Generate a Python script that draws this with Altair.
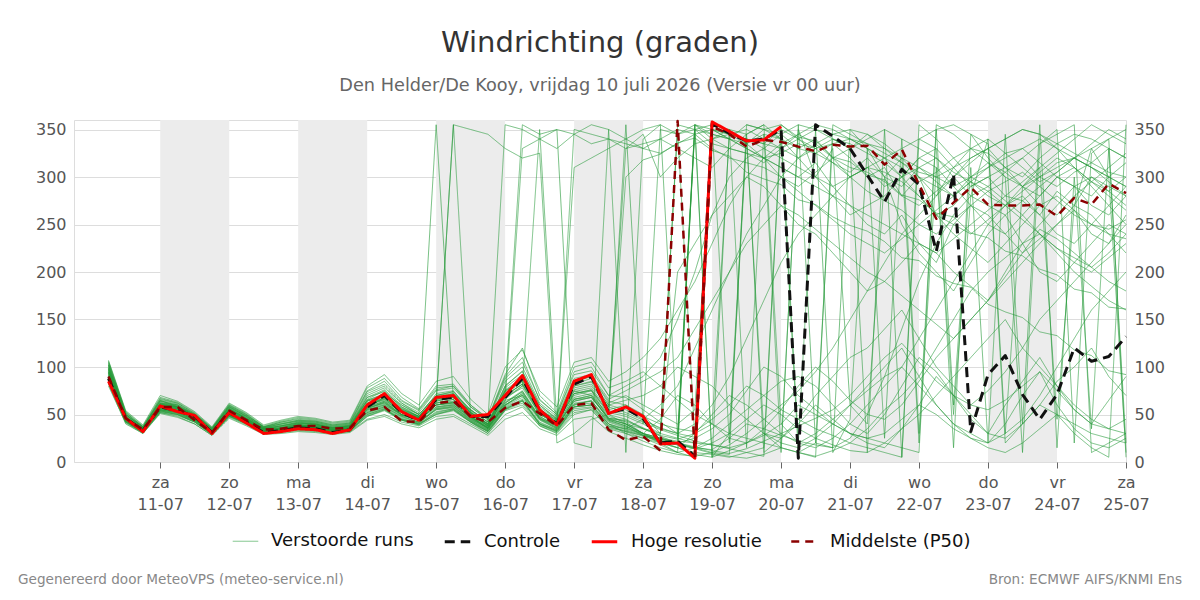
import json
import pandas as pd
import altair as alt

# ---------------- data (6-hourly, first step = vr 10-07 06 uur) ----------------
hoge_resolutie = [85, 46, 32, 59, 53, 49, 30, 52, 41, 30, 32, 35, 34, 30, 34,
                  60, 72, 53, 44, 68, 70, 48, 50, 70, 91, 55, 39, 85, 92, 51,
                  58, 48, 19, 20, 4, 358, 348, 338, 339, 353]
controle = [88, 46, 33, 58, 54, 48, 31, 52, 42, 31, 33, 36, 35, 31, 34,
            58, 70, 52, 44, 66, 68, 48, 48, 68, 88, 54, 40, 82, 90, 52,
            56, 46, 20, 22, 6, 356, 346, 338, 340, 350,
            4, 355, 343, 330, 302, 274, 308, 292, 222, 303,
            32, 92, 112, 71, 45, 71, 120, 106, 111, 132]
middelste = [90, 46, 34, 58, 58, 44, 31, 54, 44, 34, 35, 38, 38, 35, 36,
             54, 58, 43, 42, 62, 64, 48, 42, 57, 64, 51, 38, 60, 62, 34,
             23, 27, 12, 359, 6, 353, 345, 332, 339, 337,
             332, 327, 334, 332, 333, 313, 329, 292, 256, 273,
             289, 271, 270, 270, 271, 259, 278, 271, 293, 283]

m01 = [95, 48, 33, 62, 60, 48, 30, 56, 46, 35, 38, 42, 40, 36, 38,
       62, 70, 55, 48, 72, 75, 52, 40, 80, 95, 60, 45, 82, 88, 55,
       60, 50, 30, 25, 20, 350, 345, 340, 335, 350, 340, 330, 335, 320, 300,
       310, 280, 300, 260, 270, 290, 300, 280, 275, 260, 285, 270, 300, 290, 280]
m02 = [88, 44, 35, 55, 52, 44, 33, 50, 42, 33, 32, 36, 37, 33, 34,
       55, 60, 50, 44, 60, 62, 48, 35, 60, 72, 48, 38, 70, 75, 45,
       40, 30, 22, 15, 8, 5, 12, 20, 30, 25, 40, 60, 45, 30, 20,
       15, 35, 60, 90, 70, 50, 30, 60, 85, 110, 80, 55, 40, 65, 90]
m03 = [100, 50, 36, 65, 58, 50, 35, 58, 48, 36, 40, 44, 42, 38, 40,
       70, 78, 62, 50, 355, 65, 55, 42, 75, 85, 52, 40, 310, 320, 330,
       340, 350, 355, 345, 350, 335, 330, 325, 320, 310, 300, 315, 290, 270, 250,
       240, 260, 230, 210, 250, 270, 260, 240, 220, 235, 250, 265, 240, 230, 260]
m04 = [90, 45, 32, 57, 55, 45, 30, 52, 44, 32, 36, 40, 35, 32, 36,
       58, 68, 52, 45, 65, 68, 50, 38, 70, 82, 50, 42, 75, 70, 50,
       45, 35, 28, 355, 350, 345, 340, 355, 350, 345, 330, 340, 320, 300, 310,
       290, 300, 310, 295, 280, 300, 315, 305, 290, 280, 300, 310, 295, 285, 300]
m05 = [97, 47, 34, 60, 57, 47, 31, 55, 45, 34, 35, 38, 39, 34, 35,
       52, 58, 48, 42, 55, 58, 45, 36, 65, 70, 45, 35, 60, 65, 40,
       30, 25, 18, 10, 15, 25, 40, 55, 70, 85, 90, 80, 60, 40, 30,
       50, 80, 110, 95, 70, 45, 30, 25, 40, 60, 85, 100, 120, 90, 70]
m06 = [85, 42, 31, 54, 50, 42, 29, 49, 40, 31, 33, 34, 33, 31, 33,
       48, 55, 45, 40, 50, 55, 42, 30, 55, 65, 40, 32, 58, 60, 38,
       35, 45, 60, 80, 120, 160, 200, 240, 270, 300, 320, 330, 340, 335, 325,
       315, 300, 320, 330, 310, 290, 300, 310, 320, 300, 290, 305, 315, 330, 320]
m07 = [105, 52, 37, 66, 62, 51, 36, 60, 50, 37, 42, 46, 44, 40, 42,
       75, 85, 65, 55, 78, 80, 60, 45, 90, 110, 65, 50, 95, 100, 70,
       80, 90, 110, 150, 200, 260, 300, 320, 330, 345, 355, 350, 340, 330, 345,
       335, 320, 300, 280, 310, 330, 340, 325, 310, 295, 305, 320, 335, 350, 340]
m08 = [93, 46, 35, 59, 56, 46, 31, 53, 43, 33, 34, 37, 36, 34, 35,
       60, 65, 52, 47, 62, 64, 50, 38, 68, 78, 50, 40, 68, 72, 48,
       42, 30, 25, 20, 15, 10, 8, 355, 350, 340, 10, 20, 15, 350, 330,
       300, 250, 220, 200, 180, 210, 240, 260, 230, 200, 190, 210, 230, 250, 240]
m09 = [89, 44, 33, 56, 53, 45, 32, 51, 43, 33, 34, 37, 36, 33, 34,
       56, 62, 50, 45, 58, 60, 47, 36, 62, 74, 46, 36, 66, 70, 44,
       38, 28, 20, 15, 30, 50, 70, 60, 45, 30, 20, 15, 25, 40, 60,
       80, 100, 130, 160, 190, 220, 250, 270, 280, 260, 240, 230, 250, 270, 290]
m10 = [98, 48, 34, 61, 58, 48, 31, 56, 46, 35, 37, 40, 40, 35, 37,
       58, 72, 60, 50, 70, 72, 55, 42, 355, 350, 340, 330, 345, 355, 350,
       340, 330, 325, 335, 345, 350, 340, 330, 320, 325, 335, 330, 315, 305, 320,
       300, 290, 310, 320, 305, 295, 280, 270, 285, 300, 315, 320, 310, 300, 290]
m11 = [82, 40, 30, 52, 48, 40, 28, 47, 39, 30, 31, 33, 32, 30, 32,
       45, 50, 42, 38, 48, 50, 40, 30, 50, 58, 38, 30, 50, 55, 35,
       30, 22, 15, 10, 5, 355, 350, 345, 10, 25, 45, 70, 90, 110, 120,
       140, 160, 130, 100, 80, 60, 75, 95, 120, 150, 170, 190, 210, 230, 250]
m12 = [102, 50, 36, 64, 60, 50, 34, 58, 48, 36, 40, 43, 41, 37, 39,
       66, 75, 58, 48, 68, 70, 52, 40, 72, 90, 55, 44, 80, 85, 60,
       65, 70, 80, 100, 90, 80, 60, 45, 30, 20, 15, 25, 40, 60, 80,
       100, 120, 90, 60, 40, 30, 20, 40, 70, 95, 60, 35, 20, 15, 25]
m13 = [91, 45, 33, 58, 55, 46, 32, 52, 44, 33, 35, 38, 37, 34, 36,
       58, 64, 50, 44, 62, 66, 48, 36, 64, 330, 340, 350, 345, 335, 340,
       330, 345, 300, 320, 335, 340, 330, 325, 315, 330, 345, 335, 320, 310, 305,
       295, 280, 270, 285, 300, 320, 330, 310, 290, 270, 260, 280, 295, 310, 325]
m14 = [87, 44, 32, 55, 52, 44, 31, 50, 42, 32, 33, 36, 35, 32, 33,
       52, 58, 46, 41, 56, 58, 44, 34, 58, 66, 42, 34, 60, 62, 42,
       36, 28, 22, 18, 14, 20, 30, 45, 60, 50, 35, 25, 18, 12, 10,
       20, 35, 50, 70, 90, 110, 130, 150, 120, 100, 80, 60, 45, 35, 30]
m15 = [96, 47, 35, 60, 58, 47, 33, 55, 45, 35, 36, 39, 38, 35, 37,
       64, 70, 56, 48, 66, 70, 52, 40, 74, 86, 55, 42, 76, 80, 58,
       330, 335, 340, 330, 320, 310, 330, 345, 355, 340, 320, 300, 280, 260, 270,
       280, 300, 320, 310, 290, 270, 250, 240, 260, 280, 300, 290, 270, 260, 280]
m16 = [84, 42, 31, 53, 50, 43, 30, 48, 41, 31, 32, 35, 34, 31, 33,
       50, 56, 45, 40, 52, 56, 43, 32, 56, 64, 40, 33, 58, 60, 40,
       35, 30, 45, 70, 60, 40, 25, 20, 35, 55, 80, 100, 85, 65, 50,
       45, 60, 85, 110, 130, 150, 170, 200, 230, 250, 270, 290, 300, 285, 270]
m17 = [99, 49, 35, 62, 58, 49, 33, 57, 47, 35, 38, 41, 40, 36, 38,
       68, 74, 58, 50, 70, 74, 54, 40, 78, 92, 58, 45, 84, 90, 62,
       70, 60, 50, 40, 55, 350, 340, 335, 345, 340, 330, 325, 335, 340, 330,
       320, 310, 295, 305, 320, 330, 325, 310, 300, 320, 335, 345, 340, 330, 320]
m18 = [94, 46, 34, 59, 56, 46, 32, 54, 44, 34, 35, 38, 37, 34, 36,
       57, 63, 50, 45, 60, 63, 48, 37, 60, 70, 46, 38, 64, 68, 46,
       40, 35, 30, 200, 230, 260, 280, 300, 290, 270, 250, 240, 220, 200, 180,
       190, 210, 230, 220, 200, 185, 170, 190, 210, 230, 250, 270, 260, 240, 220]
m19 = [104, 52, 37, 67, 62, 51, 35, 60, 50, 37, 42, 45, 43, 39, 41,
       74, 82, 64, 54, 76, 80, 58, 45, 88, 105, 66, 50, 92, 96, 70,
       68, 55, 42, 30, 355, 345, 340, 330, 320, 310, 300, 290, 280, 270, 260,
       250, 240, 230, 220, 235, 250, 265, 280, 295, 310, 325, 340, 355, 345, 335]
m20 = [106, 53, 38, 68, 63, 52, 36, 61, 51, 38, 43, 47, 45, 41, 43,
       78, 88, 68, 56, 80, 82, 60, 46, 92, 120, 70, 52, 100, 105, 78,
       85, 95, 80, 65, 50, 40, 30, 25, 20, 15, 10, 5, 355, 345, 335,
       325, 315, 305, 300, 310, 320, 330, 340, 350, 345, 335, 325, 315, 305, 300]
m21 = [86, 43, 32, 54, 51, 43, 30, 49, 41, 32, 33, 35, 34, 31, 34,
       50, 56, 44, 40, 53, 56, 43, 33, 56, 64, 40, 33, 56, 58, 38,
       32, 25, 20, 15, 10, 8, 5, 10, 15, 350, 20, 30, 45, 60, 75,
       90, 100, 80, 60, 40, 25, 15, 10, 20, 35, 50, 40, 30, 25, 20]
m22 = [92, 45, 33, 58, 55, 46, 32, 52, 44, 33, 35, 38, 37, 34, 36,
       60, 66, 52, 46, 62, 66, 48, 37, 66, 80, 50, 40, 350, 345, 340,
       335, 330, 340, 350, 345, 330, 320, 315, 310, 300, 290, 305, 320, 330, 340,
       350, 340, 330, 320, 300, 280, 270, 260, 275, 290, 305, 320, 330, 340, 350]
m23 = [101, 50, 36, 63, 59, 49, 34, 58, 48, 36, 39, 42, 41, 37, 39,
       65, 72, 57, 48, 68, 72, 53, 40, 76, 88, 56, 44, 80, 84, 60,
       55, 45, 35, 30, 40, 60, 90, 130, 170, 210, 240, 260, 280, 300, 310,
       305, 295, 280, 260, 240, 225, 210, 230, 250, 270, 280, 265, 250, 240, 235]
m24 = [88, 44, 33, 55, 53, 44, 31, 50, 42, 32, 34, 36, 35, 33, 34,
       54, 60, 48, 42, 57, 60, 46, 35, 60, 70, 45, 36, 62, 64, 44,
       38, 30, 25, 22, 20, 18, 15, 20, 28, 40, 60, 50, 40, 30, 25,
       30, 45, 60, 50, 35, 25, 20, 30, 45, 70, 100, 130, 160, 180, 200]
m25 = [95, 47, 34, 60, 57, 47, 32, 55, 45, 34, 36, 39, 38, 35, 37,
       61, 67, 54, 46, 64, 68, 50, 38, 70, 82, 52, 41, 72, 76, 52,
       48, 40, 350, 345, 355, 340, 345, 350, 340, 330, 320, 335, 345, 350, 345,
       330, 315, 300, 290, 280, 295, 310, 325, 330, 315, 300, 290, 280, 300, 315]
m26 = [83, 42, 31, 52, 49, 42, 29, 48, 40, 31, 32, 34, 33, 31, 32,
       48, 54, 44, 39, 50, 54, 42, 32, 54, 60, 38, 31, 52, 55, 36,
       32, 28, 24, 20, 25, 35, 50, 75, 100, 90, 70, 55, 40, 30, 25,
       20, 15, 10, 355, 345, 330, 315, 300, 290, 300, 310, 320, 310, 295, 280]
m27 = [103, 51, 37, 65, 61, 50, 35, 59, 49, 37, 41, 44, 43, 39, 41,
       72, 80, 62, 52, 75, 78, 58, 44, 85, 100, 62, 48, 88, 92, 66,
       75, 85, 95, 110, 140, 170, 200, 230, 250, 270, 260, 245, 230, 215, 200,
       190, 175, 160, 145, 130, 150, 170, 195, 220, 245, 235, 220, 205, 190, 180]
m28 = [90, 45, 33, 57, 54, 45, 31, 51, 43, 33, 34, 37, 36, 33, 35,
       57, 62, 49, 44, 60, 62, 47, 36, 62, 74, 47, 38, 66, 68, 46,
       44, 36, 28, 24, 30, 40, 345, 335, 350, 355, 340, 325, 315, 300, 285,
       275, 265, 250, 240, 255, 270, 285, 295, 305, 290, 275, 260, 250, 245, 255]
m29 = [97, 48, 35, 61, 58, 48, 33, 56, 46, 35, 37, 40, 39, 36, 38,
       62, 68, 54, 47, 66, 70, 51, 39, 72, 84, 53, 42, 74, 78, 54,
       50, 42, 34, 28, 22, 18, 14, 10, 6, 355, 342, 338, 321, 316, 302,
       297, 281, 276, 262, 258, 241, 236, 222, 217, 203, 197, 182, 178, 163, 161]
m30 = [86, 43, 32, 54, 51, 43, 30, 49, 41, 32, 33, 36, 35, 32, 33,
       51, 57, 45, 41, 55, 57, 44, 33, 57, 65, 41, 34, 58, 60, 40,
       34, 28, 24, 20, 16, 12, 9, 14, 22, 30, 38, 46, 55, 70, 90,
       110, 125, 105, 85, 70, 60, 55, 65, 80, 95, 75, 55, 40, 35, 45]
m31 = [93, 46, 34, 59, 56, 47, 32, 53, 45, 34, 35, 38, 37, 34, 36,
       60, 66, 52, 46, 64, 355, 50, 38, 68, 80, 350, 42, 72, 75, 50,
       355, 40, 30, 350, 25, 355, 20, 340, 30, 15, 350, 300, 330, 60, 40,
       300, 320, 20, 310, 50, 280, 340, 30, 290, 310, 45, 270, 330, 300, 10]
m32 = [89, 44, 33, 56, 54, 45, 31, 51, 43, 33, 34, 37, 36, 33, 35,
       55, 61, 49, 44, 58, 61, 46, 35, 60, 72, 46, 37, 64, 68, 45,
       40, 30, 20, 10, 355, 5, 350, 15, 345, 10, 355, 20, 340, 330, 10,
       350, 5, 340, 330, 15, 345, 320, 300, 10, 335, 350, 20, 325, 340, 5]
m33 = [98, 48, 35, 61, 58, 48, 33, 56, 46, 35, 38, 41, 39, 36, 38,
       64, 70, 55, 47, 66, 70, 52, 39, 74, 355, 345, 350, 20, 15, 350,
       10, 340, 355, 25, 350, 5, 30, 345, 355, 40, 20, 350, 10, 45, 330,
       25, 340, 30, 350, 60, 310, 20, 345, 40, 355, 15, 300, 35, 330, 20]
m34 = [94, 47, 34, 59, 56, 46, 32, 54, 44, 34, 35, 38, 37, 34, 36,
       58, 64, 52, 46, 62, 355, 350, 345, 330, 320, 325, 20, 30, 45, 50,
       40, 30, 25, 20, 355, 350, 345, 340, 335, 330, 340, 350, 345, 340, 335,
       330, 320, 310, 300, 290, 300, 310, 320, 330, 340, 330, 320, 310, 300, 290]
m35 = [80, 41, 30, 51, 47, 40, 28, 46, 38, 29, 30, 32, 31, 29, 31,
       44, 48, 40, 36, 45, 48, 38, 28, 45, 52, 35, 28, 45, 48, 32,
       25, 18, 12, 8, 6, 10, 18, 30, 45, 60, 75, 95, 120, 150, 180,
       210, 240, 260, 280, 300, 315, 330, 340, 350, 345, 330, 310, 290, 270, 250]
m36 = [107, 54, 39, 70, 64, 53, 37, 62, 52, 39, 44, 48, 46, 42, 44,
       80, 92, 72, 60, 85, 90, 66, 50, 100, 118, 75, 58, 105, 110, 85,
       95, 110, 130, 160, 190, 230, 270, 300, 320, 335, 345, 355, 350, 340, 330,
       320, 300, 280, 260, 250, 240, 255, 270, 290, 305, 320, 310, 295, 280, 265]
m37 = [91, 45, 34, 57, 54, 46, 31, 52, 43, 33, 34, 37, 36, 33, 35,
       56, 63, 50, 44, 60, 63, 47, 36, 63, 75, 48, 38, 66, 70, 46,
       43, 35, 27, 20, 14, 9, 6, 4, 8, 15, 10, 6, 12, 20, 35,
       55, 70, 90, 120, 150, 180, 200, 215, 230, 240, 220, 200, 185, 170, 160]
m38 = [99, 49, 36, 62, 59, 49, 34, 57, 47, 36, 38, 41, 40, 36, 38,
       65, 71, 56, 48, 67, 71, 52, 40, 75, 87, 55, 43, 78, 82, 58,
       52, 44, 36, 30, 26, 340, 350, 335, 320, 300, 285, 270, 255, 240, 230,
       220, 235, 250, 265, 280, 295, 285, 270, 255, 240, 225, 210, 200, 215, 230]
m39 = [87, 43, 32, 55, 52, 44, 30, 50, 42, 32, 33, 36, 35, 32, 34,
       53, 59, 47, 42, 56, 59, 45, 34, 59, 68, 44, 35, 61, 64, 43,
       37, 29, 23, 19, 350, 355, 345, 340, 330, 320, 310, 300, 290, 300, 310,
       320, 330, 340, 350, 355, 345, 335, 20, 40, 60, 50, 30, 15, 5, 355]
m40 = [95, 47, 34, 60, 57, 47, 32, 55, 45, 34, 36, 39, 38, 35, 37,
       61, 67, 54, 46, 64, 68, 50, 38, 70, 82, 52, 41, 72, 76, 52,
       300, 318, 324, 336, 341, 328, 322, 305, 298, 292, 276, 271, 258, 249, 243,
       232, 215, 212, 196, 188, 184, 166, 158, 152, 137, 133, 118, 112, 96, 92]
m41 = [102, 50, 37, 64, 60, 50, 35, 59, 49, 37, 40, 43, 42, 38, 40,
       68, 76, 60, 50, 70, 74, 55, 42, 80, 96, 60, 46, 86, 90, 64,
       60, 48, 40, 35, 32, 45, 60, 80, 70, 55, 45, 35, 28, 20, 15,
       10, 5, 355, 340, 320, 300, 290, 305, 320, 335, 345, 355, 10, 20, 30]
m42 = [85, 43, 31, 53, 50, 42, 29, 48, 40, 31, 32, 35, 34, 31, 33,
       49, 55, 44, 39, 51, 55, 42, 32, 55, 62, 39, 32, 54, 57, 37,
       33, 27, 22, 18, 15, 13, 25, 40, 35, 28, 22, 18, 15, 25, 50,
       90, 140, 190, 230, 260, 280, 290, 275, 260, 240, 225, 215, 205, 220, 240]

members = [m01, m02, m03, m04, m05, m06, m07, m08, m09, m10, m11, m12, m13, m14,
           m15, m16, m17, m18, m19, m20, m21, m22, m23, m24, m25, m26, m27, m28,
           m29, m30, m31, m32, m33, m34, m35, m36, m37, m38, m39, m40, m41, m42]

series_names = ["Verstoorde runs", "Controle", "Hoge resolutie", "Middelste (P50)"]
series_colors = ["#259a38", "#111111", "#ff0000", "#8b0000"]
series_dash = [[1, 0], [10, 6], [1, 0], [8, 6]]
series_width = [1, 3, 3, 2.5]
series_opacity = [0.62, 1, 1, 1]

day_names = ["za", "zo", "ma", "di", "wo", "do", "vr", "za", "zo", "ma", "di", "wo", "do", "vr", "za"]
day_dates = ["11-07", "12-07", "13-07", "14-07", "15-07", "16-07", "17-07", "18-07",
             "19-07", "20-07", "21-07", "22-07", "23-07", "24-07", "25-07"]
day_ticks = list(range(1, 16))
shade_start = [1, 3, 5, 7, 9, 11, 13]
shade_end = [2, 4, 6, 8, 10, 12, 14]

y_ticks = [0, 50, 100, 150, 200, 250, 300, 350]
STEP = 0.25  # days
T0 = 0.25    # 10-07 06 uur


# ---------------- tables ----------------
def table(name, values, member="x"):
    return pd.DataFrame({"t": [T0 + STEP * i for i in range(len(values))],
                         "v": values, "series": name, "member": member})


df_members = pd.concat([table(series_names[0], m, f"m{k:02d}") for k, m in enumerate(members)])
df_ctrl = table(series_names[1], controle)
df_hres = table(series_names[2], hoge_resolutie)
df_p50 = table(series_names[3], middelste)
df_shade = pd.DataFrame({"s": shade_start, "e": shade_end})

W, H = 1052, 342
FONT = "DejaVu Sans"

label_expr = (f"[{json.dumps(day_names)}[round(datum.value) - 1], "
              f"{json.dumps(day_dates)}[round(datum.value) - 1]]")

x_scale = alt.Scale(domain=[-0.25, 15], nice=False, zero=False)
x_axis = alt.Axis(values=day_ticks, labelExpr=label_expr, title=None, grid=False,
                  domain=False, ticks=True, tickSize=6, tickColor="#666",
                  labelFontSize=16, labelColor="#555", labelPadding=6,
                  labelLineHeight=22, labelFont=FONT, labelOverlap=False,
                  labelBound=False, labelFlush=False)
y_scale = alt.Scale(domain=[0, 360], nice=False)

color = alt.Color("series:N", scale=alt.Scale(domain=series_names, range=series_colors),
                  legend=alt.Legend(title=None, orient="none", legendX=158, legendY=407,
                                    direction="horizontal", symbolType="stroke",
                                    symbolSize=650, labelFontSize=18, labelColor="#111",
                                    labelFont=FONT, labelOffset=12, columnPadding=24))
dash = alt.StrokeDash("series:N", scale=alt.Scale(domain=series_names, range=series_dash), legend=None)
swidth = alt.StrokeWidth("series:N", scale=alt.Scale(type="ordinal", domain=series_names,
                                                      range=series_width), legend=None)
opac = alt.Opacity("series:N", scale=alt.Scale(type="ordinal", domain=series_names,
                                                range=series_opacity), legend=None)

X = alt.X("t:Q", scale=x_scale, axis=x_axis)


def lines(df, yaxis, detail=None):
    enc = dict(x=X,
               y=alt.Y("v:Q", scale=y_scale, axis=yaxis),
               color=color, strokeDash=dash, strokeWidth=swidth, opacity=opac)
    if detail:
        enc["detail"] = detail
    return alt.Chart(df).mark_line(strokeJoin="round").encode(**enc)


left_axis = alt.Axis(values=y_ticks, orient="left", title=None, grid=True, gridColor="#dddddd",
                     domain=False, ticks=False, labelFontSize=16, labelColor="#555",
                     labelPadding=8, labelFont=FONT)
right_axis = alt.Axis(values=y_ticks, orient="right", title=None, grid=False,
                      domain=False, ticks=False, labelFontSize=16, labelColor="#555",
                      labelPadding=8, labelFont=FONT)

shade = alt.Chart(df_shade).mark_rect(color="#ececec").encode(
    x=alt.X("s:Q", scale=x_scale, axis=x_axis), x2="e:Q",
    y=alt.Y(datum=0, scale=y_scale, axis=None), y2=alt.datum(360))

members_layer = lines(df_members, left_axis, detail="member:N")
ctrl_layer = lines(df_ctrl, right_axis)
hres_layer = lines(df_hres, None)
p50_layer = lines(df_p50, None)

footer_left = alt.Chart(pd.DataFrame({"txt": ["Gegenereerd door MeteoVPS (meteo-service.nl)"]})).mark_text(
    align="left", baseline="middle", fontSize=13.6, color="#888", font=FONT).encode(
    text="txt:N", x=alt.value(-56), y=alt.value(460))
footer_right = alt.Chart(pd.DataFrame({"txt": ["Bron: ECMWF AIFS/KNMI Ens"]})).mark_text(
    align="right", baseline="middle", fontSize=13.6, color="#888", font=FONT).encode(
    text="txt:N", x=alt.value(1108), y=alt.value(460))

chart = alt.layer(shade, members_layer, ctrl_layer, hres_layer, p50_layer,
                  footer_left, footer_right).resolve_axis(y="independent").properties(
    width=W, height=H,
    title=alt.TitleParams(text="Windrichting (graden)",
                          subtitle="Den Helder/De Kooy, vrijdag 10 juli 2026 (Versie vr 00 uur)",
                          fontSize=29, fontWeight="normal", color="#333", font=FONT,
                          subtitleFontSize=17.7, subtitleColor="#666", subtitleFont=FONT,
                          anchor="middle", offset=25, subtitlePadding=19),
    autosize=alt.AutoSizeParams(type="none"),
    padding={"left": 74, "top": 120, "right": 74, "bottom": 138},
).configure_view(stroke=None).configure(font=FONT, background="white")

chart.save("out.html", embed_options={"renderer": "svg", "actions": False})
